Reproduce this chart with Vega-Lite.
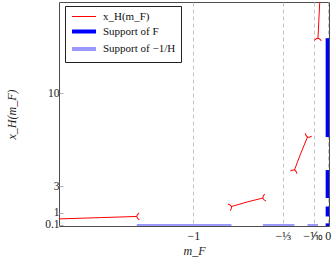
{
  "$schema": "https://vega.github.io/schema/vega-lite/v6.json",
  "width": 270,
  "height": 224,
  "autosize": {"type": "none"},
  "padding": {"left": 59, "top": 2, "right": 7, "bottom": 40},
  "background": "white",
  "config": {
    "view": {"stroke": "#4d4d4d", "strokeWidth": 1},
    "font": "Liberation Serif"
  },
  "datasets": {
    "curve": [
      {"seg": 1, "x": -2.05, "y": 0.52, "series": "x_H(m_F)"},
      {"seg": 1, "x": -1.7, "y": 0.63, "series": "x_H(m_F)"},
      {"seg": 1, "x": -1.421, "y": 0.72, "series": "x_H(m_F)"},
      {"seg": 2, "x": -0.716, "y": 1.47, "series": "x_H(m_F)"},
      {"seg": 2, "x": -0.597, "y": 1.82, "series": "x_H(m_F)"},
      {"seg": 2, "x": -0.482, "y": 2.11, "series": "x_H(m_F)"},
      {"seg": 3, "x": -0.247, "y": 4.22, "series": "x_H(m_F)"},
      {"seg": 3, "x": -0.205, "y": 5.35, "series": "x_H(m_F)"},
      {"seg": 3, "x": -0.15, "y": 6.71, "series": "x_H(m_F)"},
      {"seg": 4, "x": -0.072, "y": 14.17, "series": "x_H(m_F)"},
      {"seg": 4, "x": -0.0575, "y": 17.2, "series": "x_H(m_F)"}
    ],
    "markers": [
      {"id": "a", "x": -1.421, "y": 0.72},
      {"id": "b", "x": -0.716, "y": 1.47},
      {"id": "c", "x": -0.482, "y": 2.11},
      {"id": "d", "x": -0.247, "y": 4.22},
      {"id": "e", "x": -0.15, "y": 6.71},
      {"id": "f", "x": -0.072, "y": 14.17}
    ],
    "suppF": [
      {"series": "Support of F", "x": 0, "y": 6.71, "y2": 14.17},
      {"series": "Support of F", "x": 0, "y": 2.11, "y2": 4.22},
      {"series": "Support of F", "x": 0, "y": 0.72, "y2": 1.47},
      {"series": "Support of F", "x": 0, "y": 0, "y2": 0.2}
    ],
    "suppH": [
      {"series": "Support of −1/H", "x": -1.421, "x2": -0.716, "y": 0},
      {"series": "Support of −1/H", "x": -0.482, "x2": -0.247, "y": 0},
      {"series": "Support of −1/H", "x": -0.15, "x2": -0.072, "y": 0}
    ]
  },
  "encoding": {
    "x": {
      "type": "quantitative",
      "scale": {"domain": [-2, 0.01], "nice": false, "zero": false},
      "axis": {
        "title": "m_F",
        "titleFont": "Liberation Serif",
        "titleFontStyle": "italic",
        "titleFontWeight": "normal",
        "titleFontSize": 12,
        "titleColor": "#222",
        "titlePadding": 4,
        "values": [-1, -0.3333333, -0.1, 0],
        "labelExpr": "datum.value < -0.9 ? '−1' : datum.value < -0.3 ? '−⅓' : datum.value < -0.05 ? '−⅒' : '0'",
        "labelFont": "Liberation Serif",
        "labelFontSize": 12,
        "labelColor": "#222",
        "labelOverlap": false,
        "labelBound": false,
        "labelFlush": false,
        "labelOffset": {"condition": {"test": "datum.value > -0.2 && datum.value < -0.05", "value": -2}, "value": 0},
        "labelPadding": 4,
        "ticks": false,
        "domain": false,
        "grid": true,
        "gridColor": "#c4c4c4",
        "gridDash": [4, 3],
        "gridWidth": 1
      }
    },
    "y": {
      "type": "quantitative",
      "scale": {"domain": [0, 16.9], "nice": false, "zero": false},
      "axis": {
        "title": "x_H(m_F)",
        "titleFont": "Liberation Serif",
        "titleFontStyle": "italic",
        "titleFontWeight": "normal",
        "titleFontSize": 12,
        "titleColor": "#222",
        "titlePadding": 26,
        "values": [0.1, 1, 3, 10],
        "format": ".2~f",
        "labelFont": "Liberation Serif",
        "labelFontSize": 11.5,
        "labelColor": "#222",
        "labelOverlap": false,
        "labelBound": false,
        "labelFlush": false,
        "labelPadding": 4,
        "ticks": true,
        "tickSize": -4,
        "tickColor": "#b0b0b0",
        "domain": false,
        "grid": false
      }
    },
    "color": {
      "field": "series",
      "type": "nominal",
      "scale": {
        "domain": ["x_H(m_F)", "Support of F", "Support of −1/H"],
        "range": ["#ff0000", "#0000ff", "#9999ff"]
      },
      "legend": {
        "title": null,
        "orient": "none",
        "legendX": 6,
        "legendY": 4,
        "symbolType": "M -1 0 L 5 0",
        "symbolSize": 64,
        "rowPadding": 1.5,
        "labelFont": "Liberation Serif",
        "labelFontSize": 11,
        "labelColor": "#111",
        "labelOffset": 21,
        "padding": 5,
        "strokeColor": "#222",
        "fillColor": "white",
        "cornerRadius": 0
      }
    },
    "strokeWidth": {
      "field": "series",
      "type": "nominal",
      "scale": {
        "type": "ordinal",
        "domain": ["x_H(m_F)", "Support of F", "Support of −1/H"],
        "range": [1, 4, 4]
      },
      "legend": {
        "title": null,
        "orient": "none",
        "legendX": 6,
        "legendY": 4,
        "symbolType": "M -1 0 L 5 0",
        "symbolSize": 64,
        "rowPadding": 1.5,
        "labelFont": "Liberation Serif",
        "labelFontSize": 11,
        "labelColor": "#111",
        "labelOffset": 21,
        "padding": 5,
        "strokeColor": "#222",
        "fillColor": "white",
        "cornerRadius": 0
      }
    }
  },
  "layer": [
    {
      "data": {"name": "suppH"},
      "mark": {"type": "rule", "clip": true},
      "encoding": {
        "x": {"field": "x", "type": "quantitative"},
        "x2": {"field": "x2"},
        "y": {"field": "y", "type": "quantitative"}
      }
    },
    {
      "data": {"name": "suppF"},
      "mark": {"type": "rule", "clip": true},
      "encoding": {
        "x": {"field": "x", "type": "quantitative"},
        "y": {"field": "y", "type": "quantitative"},
        "y2": {"field": "y2"}
      }
    },
    {
      "data": {"name": "curve"},
      "mark": {"type": "line", "clip": true, "interpolate": "monotone"},
      "encoding": {
        "x": {"field": "x", "type": "quantitative"},
        "y": {"field": "y", "type": "quantitative"},
        "detail": {"field": "seg", "type": "nominal"},
        "order": {"field": "x", "type": "quantitative"}
      }
    },
    {
      "data": {"name": "markers"},
      "transform": [{"filter": "datum.id == 'a'"}],
      "mark": {"type": "point", "shape": "M 0.7 -1 Q -0.7 0 0.7 1", "filled": false, "size": 49, "angle": -2, "opacity": 1},
      "encoding": {"x": {"field": "x", "type": "quantitative"}, "y": {"field": "y", "type": "quantitative"}, "color": {"value": "#ff0000"}, "strokeWidth": {"value": 1}}
    },
    {
      "data": {"name": "markers"},
      "transform": [{"filter": "datum.id == 'b'"}],
      "mark": {"type": "point", "shape": "M 0.7 -1 Q -0.7 0 0.7 1", "filled": false, "size": 49, "angle": 160, "opacity": 1},
      "encoding": {"x": {"field": "x", "type": "quantitative"}, "y": {"field": "y", "type": "quantitative"}, "color": {"value": "#ff0000"}, "strokeWidth": {"value": 1}}
    },
    {
      "data": {"name": "markers"},
      "transform": [{"filter": "datum.id == 'c'"}],
      "mark": {"type": "point", "shape": "M 0.7 -1 Q -0.7 0 0.7 1", "filled": false, "size": 49, "angle": -10, "opacity": 1},
      "encoding": {"x": {"field": "x", "type": "quantitative"}, "y": {"field": "y", "type": "quantitative"}, "color": {"value": "#ff0000"}, "strokeWidth": {"value": 1}}
    },
    {
      "data": {"name": "markers"},
      "transform": [{"filter": "datum.id == 'd'"}],
      "mark": {"type": "point", "shape": "M 0.7 -1 Q -0.7 0 0.7 1", "filled": false, "size": 49, "angle": 110, "opacity": 1},
      "encoding": {"x": {"field": "x", "type": "quantitative"}, "y": {"field": "y", "type": "quantitative"}, "color": {"value": "#ff0000"}, "strokeWidth": {"value": 1}}
    },
    {
      "data": {"name": "markers"},
      "transform": [{"filter": "datum.id == 'e'"}],
      "mark": {"type": "point", "shape": "M 0.7 -1 Q -0.7 0 0.7 1", "filled": false, "size": 49, "angle": -67, "opacity": 1},
      "encoding": {"x": {"field": "x", "type": "quantitative"}, "y": {"field": "y", "type": "quantitative"}, "color": {"value": "#ff0000"}, "strokeWidth": {"value": 1}}
    },
    {
      "data": {"name": "markers"},
      "transform": [{"filter": "datum.id == 'f'"}],
      "mark": {"type": "point", "shape": "M 0.7 -1 Q -0.7 0 0.7 1", "filled": false, "size": 49, "angle": 93, "opacity": 1},
      "encoding": {"x": {"field": "x", "type": "quantitative"}, "y": {"field": "y", "type": "quantitative"}, "color": {"value": "#ff0000"}, "strokeWidth": {"value": 1}}
    }
  ]
}
